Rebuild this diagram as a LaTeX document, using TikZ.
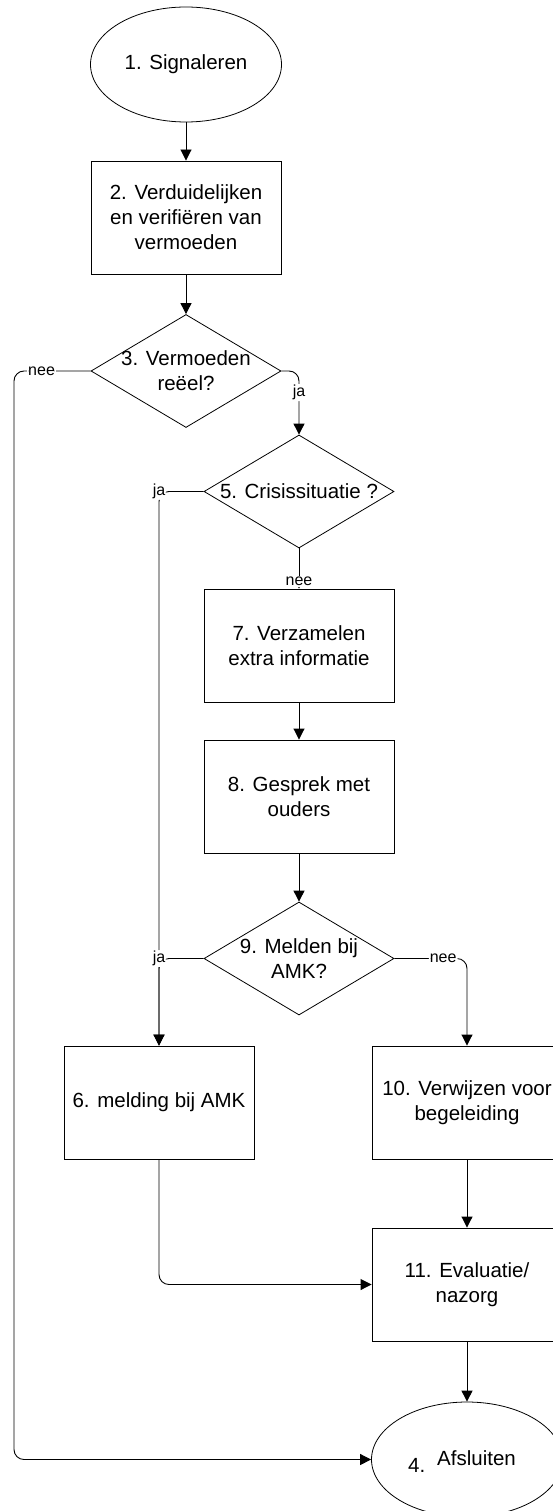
\documentclass[tikz,border=0pt]{standalone}
\usepackage{fontspec}
\setmainfont{Liberation Sans}
\usetikzlibrary{shapes.geometric,arrows.meta}
\begin{document}
\begin{tikzpicture}[x=1pt,y=-1pt,
 every node/.style={font=\fontsize{20.5}{25}\selectfont},
 proc/.style={draw, line width=0.9pt, minimum width=190pt, minimum height=113pt, inner sep=0pt, align=center},
 term/.style={draw, ellipse, line width=0.8pt, minimum width=191pt, minimum height=115pt, inner sep=0pt, align=center},
 dec/.style={draw, diamond, line width=0.8pt, minimum width=190pt, minimum height=113pt, inner sep=0pt},
 txt/.style={align=center, inner sep=0pt},
 lbl/.style={fill=white, inner sep=1pt, font=\fontsize{16}{19}\selectfont},
 conn/.style={line width=0.9pt, -{Triangle[width=11pt,length=11pt]}},
 elbow/.style={conn, rounded corners=10pt}
]
\useasboundingbox (0,0) rectangle (552,1511);

\node[term] (n1) at (186,64.5) {1. Signaleren};
\node[proc] (n2) at (186,217.5) {2. Verduidelijken\\en verifiëren van\\vermoeden};
\node[dec] (n3) at (186,371) {};
\node[txt] (t3) at (n3) {3. Vermoeden\\reëel?};
\node[dec] (n5) at (299,491.5) {};
\node[txt] (t5) at (n5) {5. Crisissituatie ?};
\node[proc] (n7) at (299,645.5) {7. Verzamelen\\extra informatie};
\node[proc] (n8) at (299,796.5) {8. Gesprek met\\ouders};
\node[dec] (n9) at (299,958.5) {};
\node[txt] (t9) at (n9) {9. Melden bij\\AMK?};
\node[proc] (n6) at (159,1102.5) {6. melding bij AMK};
\node[proc] (n10) at (467,1102.5) {10. Verwijzen voor\\begeleiding};
\node[proc] (n11) at (467,1284.5) {11. Evaluatie/\\nazorg};
\node[term] (n4) at (467,1459.5) {};
\node[txt] (t4) at (462,1462) {4.\hspace{12pt}\raisebox{7pt}{Afsluiten}};

\coordinate (cL) at (14,1459.5);

\draw[conn] (n1) -- (n2);
\draw[conn] (n2) -- (n3);
\draw[elbow] (n3.west) -| node[lbl,pos=0.32]{nee} (cL) -- (n4.west);
\draw[elbow] (n3.east) -| node[lbl,pos=0.67]{ja} (n5.north);
\draw[conn] (n5.south) -- node[lbl,pos=0.83]{nee} (n7.north);
\draw[elbow] (n5.west) -| node[lbl,pos=0.5]{ja} (n6.north);
\draw[conn] (n7) -- (n8);
\draw[conn] (n8) -- (n9);
\draw[elbow] (n9.west) -| node[lbl,pos=0.5]{ja} (n6.north);
\draw[elbow] (n9.east) -| node[lbl,pos=0.336]{nee} (n10.north);
\draw[conn] (n10) -- (n11);
\draw[elbow] (n6.south) |- (n11.west);
\draw[conn] (n11) -- (n4);
\end{tikzpicture}
\end{document}
